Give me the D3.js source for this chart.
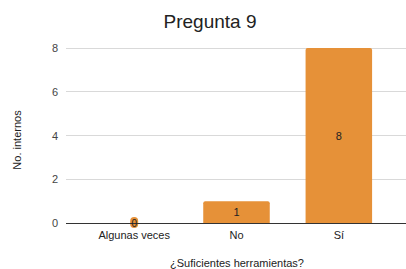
<!DOCTYPE html>
<html><head><meta charset="utf-8">
<script src="https://cdn.jsdelivr.net/npm/d3@7"></script>
<style>body{margin:0;background:#fff}svg{display:block}text{font-family:"Liberation Sans",Arial,sans-serif}</style>
</head><body><svg id="c" width="406" height="269"></svg>
<script>
const categories = ["Algunas veces", "No", "Sí"];
const values = [0, 1, 8];
const yTicks = [0, 2, 4, 6, 8];
const title = "Pregunta 9";
const xTitle = "¿Suficientes herramientas?";
const yTitle = "No. internos";

(function () {
const svg = d3.select("#c");
const W = 406, H = 269;
const font = '"Liberation Sans",Arial,sans-serif';
const gridL = 66, gridR = 406, plotTop = 48, bottom = 223;
const x = d3.scaleBand().domain(categories).range([83, 390]).paddingInner(0.35).paddingOuter(0.175);
const y = d3.scaleLinear().domain([0, 8]).range([bottom, plotTop]);
const color = "#e69138";

svg.append("rect").attr("width", W).attr("height", H).attr("fill", "#fff");

svg.append("text").attr("x", 210).attr("y", 28).attr("text-anchor", "middle")
  .attr("font-size", 19).attr("fill", "#222").text(title);

// gridlines
svg.append("g").selectAll("line").data(yTicks.filter(d => d !== 0)).join("line")
  .attr("x1", gridL).attr("x2", gridR).attr("y1", d => y(d)).attr("y2", d => y(d))
  .attr("stroke", "#d9d9d9").attr("stroke-width", 1).attr("shape-rendering", "crispEdges");

// y axis labels
const yAxis = d3.axisLeft(y).tickValues(yTicks).tickSize(0).tickPadding(0).tickFormat(d3.format("d"));
const ya = svg.append("g").attr("transform", `translate(${gridL - 8},0)`).call(yAxis);
ya.select(".domain").remove();
ya.selectAll("text").attr("font-size", 11).attr("fill", "#444").attr("font-family", font);

// bars
function barPath(d) {
  const x0 = x(d.c), w = x.bandwidth(), y0 = y(d.v), r = 2;
  return `M${x0},${bottom}V${y0 + r}Q${x0},${y0} ${x0 + r},${y0}H${x0 + w - r}Q${x0 + w},${y0} ${x0 + w},${y0 + r}V${bottom}Z`;
}
const data = categories.map((c, i) => ({ c, v: values[i] }));
svg.append("g").selectAll("path").data(data.filter(d => d.v > 0)).join("path")
  .attr("d", barPath).attr("fill", color);

// zero marker
svg.append("g").selectAll("rect").data(data.filter(d => d.v === 0)).join("rect")
  .attr("x", d => x(d.c) + x.bandwidth() / 2 - 4).attr("y", bottom - 6)
  .attr("width", 8).attr("height", 11).attr("rx", 4).attr("fill", color);

// baseline
svg.append("line").attr("x1", gridL).attr("x2", gridR).attr("y1", bottom).attr("y2", bottom)
  .attr("stroke", "#333").attr("stroke-width", 1).attr("shape-rendering", "crispEdges");

// value labels
svg.append("g").selectAll("text").data(data).join("text")
  .attr("x", d => x(d.c) + x.bandwidth() / 2)
  .attr("y", d => d.v === 0 ? bottom + 3.5 : (y(d.v) + bottom) / 2 + 4)
  .attr("text-anchor", "middle").attr("font-size", d => d.v === 0 ? 10 : 11).attr("fill", "#222")
  .text(d => d.v);

// x axis labels
const xAxis = d3.axisBottom(x).tickSize(0).tickPadding(0);
const xa = svg.append("g").attr("transform", `translate(0,${bottom + 16})`).call(xAxis);
xa.select(".domain").remove();
xa.selectAll("text").attr("font-size", 11).attr("fill", "#222").attr("font-family", font).attr("dy", "0");

svg.append("text").attr("x", 237).attr("y", 267).attr("text-anchor", "middle")
  .attr("font-size", 11).attr("fill", "#222").text(xTitle);

svg.append("text").attr("transform", "translate(21,140) rotate(-90)").attr("text-anchor", "middle")
  .attr("font-size", 11).attr("fill", "#222").text(yTitle);
})();
</script></body></html>
